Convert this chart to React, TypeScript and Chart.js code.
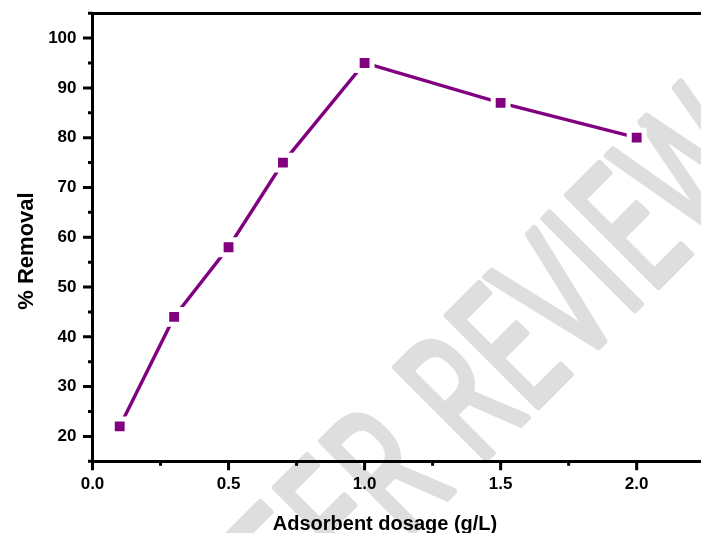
import React, { useEffect, useRef } from 'react';
import { Chart, registerables } from 'chart.js';

Chart.register(...registerables);

// ---- data ----
const dosage = [0.1, 0.3, 0.5, 0.7, 1.0, 1.5, 2.0];
const removal = [22, 44, 58, 75, 95, 87, 80];
const xMajor = [0, 0.5, 1.0, 1.5, 2.0];
const xMinor = [0.25, 0.75, 1.25, 1.75, 2.25];
const yMajor = [20, 30, 40, 50, 60, 70, 80, 90, 100];
const yMinor = [15, 25, 35, 45, 55, 65, 75, 85, 95, 105];
const xTitle = 'Adsorbent dosage (g/L)';
const yTitle = '% Removal';
const watermarkText = 'PEER REVIEW';

const CANVAS_W = 710;
const CANVAS_H = 533;
const FONT = '"Liberation Sans", Arial, Helvetica, sans-serif';
const PURPLE = '#800080';

const noPad = (s: any) => {
  s.paddingTop = 0;
  s.paddingBottom = 0;
  s.paddingLeft = 0;
  s.paddingRight = 0;
};

export default function App() {
  const ref = useRef<HTMLCanvasElement>(null);

  useEffect(() => {
    const canvas = ref.current as HTMLCanvasElement;

    const decor = {
      id: 'decor',
      beforeDraw(chart: any) {
        const ctx = chart.ctx as CanvasRenderingContext2D;
        ctx.save();
        ctx.rotate(-Math.PI / 4);
        const sx = 0.66;
        ctx.scale(sx, 1);
        ctx.font = '400 180px "Open Sans", sans-serif';
        const w1 = ctx.measureText('PEER REV').width;
        const wI = ctx.measureText('I').width;
        const a0 = 234 / sx - w1 - wI / 2;
        ctx.fillStyle = '#dedede';
        ctx.strokeStyle = '#dedede';
        ctx.lineWidth = 7;
        ctx.lineJoin = 'round';
        ctx.textBaseline = 'alphabetic';
        ctx.textAlign = 'left';
        ctx.fillText(watermarkText, a0, 668);
        ctx.strokeText(watermarkText, a0, 668);
        ctx.restore();
      },
      afterDraw(chart: any) {
        const ctx = chart.ctx as CanvasRenderingContext2D;
        const xs = chart.scales.x;
        const ys = chart.scales.y;
        const ca = chart.chartArea;
        ctx.save();
        ctx.strokeStyle = '#000';
        ctx.lineWidth = 3;
        ctx.beginPath();
        for (const v of yMajor) {
          const p = ys.getPixelForValue(v);
          ctx.moveTo(ca.left - 9.5, p);
          ctx.lineTo(ca.left, p);
        }
        for (const v of yMinor) {
          const p = ys.getPixelForValue(v);
          ctx.moveTo(ca.left - 4.5, p);
          ctx.lineTo(ca.left, p);
        }
        for (const v of xMajor) {
          const p = xs.getPixelForValue(v);
          ctx.moveTo(p, ca.bottom);
          ctx.lineTo(p, ca.bottom + 9);
        }
        for (const v of xMinor) {
          const p = xs.getPixelForValue(v);
          ctx.moveTo(p, ca.bottom);
          ctx.lineTo(p, ca.bottom + 4.5);
        }
        ctx.stroke();

        // axis titles
        ctx.fillStyle = '#000';
        ctx.font = `bold 20px ${FONT}`;
        ctx.textAlign = 'center';
        ctx.textBaseline = 'alphabetic';
        ctx.fillText(xTitle, 385, 530);

        ctx.font = `bold 22px ${FONT}`;
        ctx.translate(33, 251);
        ctx.rotate(-Math.PI / 2);
        ctx.fillText(yTitle, 0, 0);
        ctx.restore();
      },
    };

    const chart = new Chart(canvas, {
      type: 'line',
      data: {
        datasets: [
          {
            data: dosage.map((x, i) => ({ x, y: removal[i] })),
            borderColor: PURPLE,
            borderWidth: 3.4,
            pointStyle: 'rect',
            pointRadius: 10.5,
            pointHoverRadius: 10.5,
            pointBackgroundColor: PURPLE,
            pointBorderColor: '#ffffff',
            pointBorderWidth: 5,
            tension: 0,
            clip: false as any,
          },
        ],
      },
      options: {
        responsive: false,
        animation: false,
        events: [],
        layout: { autoPadding: false, padding: { top: 13.2, right: 5.3, left: 0, bottom: 0 } },
        plugins: { legend: { display: false }, tooltip: { enabled: false } },
        scales: {
          x: {
            type: 'linear',
            position: 'bottom',
            min: 0,
            max: 2.25,
            afterBuildTicks: (s: any) => {
              s.ticks = xMajor.map((v) => ({ value: v }));
            },
            afterFit: (s: any) => {
              s.height = 71.7;
              noPad(s);
            },
            grid: { display: false, drawTicks: true, tickLength: 8 },
            border: { display: true, width: 3, color: '#000' },
            ticks: {
              callback: (v: any) => Number(v).toFixed(1),
              font: { family: FONT, size: 17, weight: 'bold' },
              color: '#000',
              padding: 5,
              maxRotation: 0,
              autoSkip: false,
            },
          },
          xTop: {
            type: 'linear',
            position: 'top',
            min: 0,
            max: 2.25,
            afterFit: (s: any) => {
              s.height = 0;
              noPad(s);
            },
            grid: { display: false, drawTicks: false },
            ticks: { display: false },
            border: { display: true, width: 3, color: '#000' },
          },
          y: {
            type: 'linear',
            min: 15,
            max: 105,
            afterBuildTicks: (s: any) => {
              s.ticks = yMajor.map((v) => ({ value: v }));
            },
            afterFit: (s: any) => {
              s.width = 92.5;
              noPad(s);
            },
            grid: { display: false, drawTicks: true, tickLength: 8 },
            border: { display: true, width: 3, color: '#000' },
            ticks: {
              font: { family: FONT, size: 17, weight: 'bold' },
              color: '#000',
              padding: 8,
              autoSkip: false,
            },
          },
        },
      } as any,
      plugins: [decor],
    });

    return () => chart.destroy();
  }, []);

  return (
    <div
      style={{
        position: 'fixed',
        left: 0,
        top: 0,
        width: 701,
        height: 533,
        overflow: 'hidden',
        background: '#fff',
      }}
    >
      <canvas ref={ref} width={CANVAS_W} height={CANVAS_H} style={{ display: 'block' }} />
    </div>
  );
}
